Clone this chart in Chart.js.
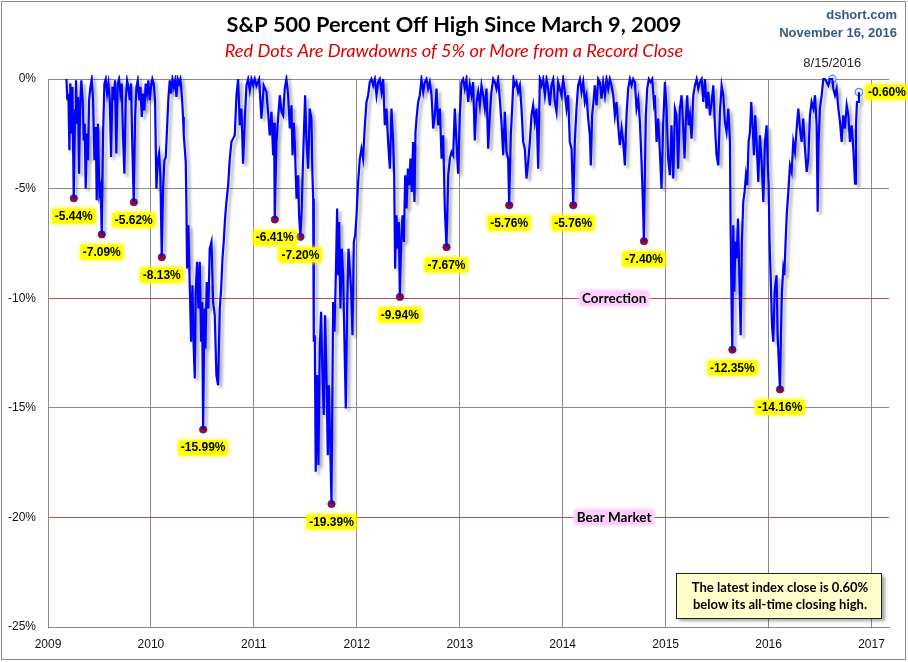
<!DOCTYPE html>
<html>
<head>
<meta charset="utf-8">
<title>S&amp;P 500 Percent Off High Since March 9, 2009</title>
<script src="https://cdn.jsdelivr.net/npm/chart.js@4.4.0/dist/chart.umd.min.js"></script>
<style>
  html, body { margin: 0; padding: 0; background: #fff; }
  canvas { display: block; }
</style>
</head>
<body>
<canvas id="chart" width="908" height="662"></canvas>
<script>
// dates as decimal years, values as percent below the running record close
const dates = [
  2009.179,2009.188,2009.198,2009.208,2009.217,2009.227,2009.237,2009.250,2009.263,2009.272,
  2009.282,2009.292,2009.302,2009.311,2009.324,2009.337,2009.347,2009.357,2009.366,2009.379,
  2009.389,2009.399,2009.412,2009.425,2009.438,2009.451,2009.464,2009.473,2009.486,2009.499,
  2009.512,2009.522,2009.535,2009.548,2009.561,2009.574,2009.587,2009.600,2009.613,2009.626,
  2009.638,2009.651,2009.664,2009.677,2009.690,2009.703,2009.716,2009.729,2009.742,2009.755,
  2009.768,2009.781,2009.794,2009.807,2009.820,2009.833,2009.846,2009.859,2009.872,2009.885,
  2009.898,2009.911,2009.924,2009.936,2009.949,2009.962,2009.975,2009.988,2010.001,2010.014,
  2010.027,2010.040,2010.053,2010.066,2010.079,2010.092,2010.105,2010.118,2010.131,2010.144,
  2010.157,2010.170,2010.183,2010.196,2010.209,2010.222,2010.235,2010.248,2010.260,2010.273,
  2010.286,2010.299,2010.312,2010.319,2010.338,2010.345,2010.351,2010.364,2010.377,2010.390,
  2010.403,2010.416,2010.426,2010.435,2010.448,2010.461,2010.474,2010.487,2010.497,2010.507,
  2010.520,2010.529,2010.542,2010.558,2010.571,2010.588,2010.604,2010.620,2010.636,2010.652,
  2010.669,2010.682,2010.695,2010.707,2010.720,2010.733,2010.750,2010.766,2010.782,2010.798,
  2010.814,2010.831,2010.847,2010.863,2010.879,2010.895,2010.912,2010.928,2010.944,2010.960,
  2010.976,2010.993,2011.009,2011.025,2011.051,2011.073,2011.096,2011.122,2011.138,2011.154,
  2011.171,2011.187,2011.196,2011.203,2011.219,2011.235,2011.252,2011.268,2011.284,2011.300,
  2011.316,2011.333,2011.349,2011.365,2011.375,2011.388,2011.397,2011.414,2011.430,2011.439,
  2011.452,2011.465,2011.478,2011.498,2011.511,2011.527,2011.543,2011.559,2011.569,2011.576,
  2011.582,2011.592,2011.601,2011.614,2011.627,2011.640,2011.653,2011.666,2011.679,2011.692,
  2011.705,2011.718,2011.728,2011.741,2011.754,2011.770,2011.783,2011.796,2011.809,2011.818,
  2011.828,2011.841,2011.854,2011.867,2011.880,2011.893,2011.906,2011.919,2011.932,2011.945,
  2011.958,2011.971,2011.984,2011.997,2012.013,2012.029,2012.045,2012.061,2012.078,2012.094,
  2012.110,2012.126,2012.142,2012.159,2012.175,2012.191,2012.207,2012.223,2012.240,2012.256,
  2012.272,2012.288,2012.304,2012.321,2012.337,2012.353,2012.363,2012.372,2012.385,2012.398,
  2012.408,2012.418,2012.431,2012.444,2012.457,2012.470,2012.483,2012.496,2012.508,2012.521,
  2012.534,2012.547,2012.560,2012.570,2012.580,2012.596,2012.612,2012.628,2012.645,2012.661,
  2012.677,2012.693,2012.709,2012.726,2012.742,2012.758,2012.774,2012.790,2012.807,2012.823,
  2012.839,2012.855,2012.871,2012.888,2012.904,2012.920,2012.936,2012.952,2012.968,2012.984,
  2013.001,2013.017,2013.033,2013.049,2013.065,2013.082,2013.098,2013.114,2013.130,2013.146,
  2013.163,2013.179,2013.195,2013.211,2013.227,2013.244,2013.260,2013.276,2013.292,2013.308,
  2013.325,2013.341,2013.357,2013.373,2013.389,2013.405,2013.422,2013.438,2013.454,2013.470,
  2013.480,2013.496,2013.509,2013.522,2013.535,2013.551,2013.567,2013.584,2013.600,2013.616,
  2013.632,2013.648,2013.665,2013.681,2013.697,2013.713,2013.729,2013.746,2013.762,2013.778,
  2013.794,2013.810,2013.827,2013.843,2013.859,2013.875,2013.891,2013.908,2013.924,2013.940,
  2013.956,2013.972,2013.988,2014.005,2014.021,2014.037,2014.053,2014.069,2014.086,2014.102,
  2014.118,2014.134,2014.150,2014.167,2014.183,2014.199,2014.215,2014.231,2014.248,2014.264,
  2014.273,2014.286,2014.299,2014.312,2014.329,2014.345,2014.361,2014.377,2014.393,2014.410,
  2014.426,2014.442,2014.458,2014.474,2014.491,2014.507,2014.523,2014.539,2014.555,2014.572,
  2014.588,2014.604,2014.620,2014.636,2014.653,2014.669,2014.685,2014.701,2014.717,2014.734,
  2014.750,2014.766,2014.779,2014.789,2014.798,2014.808,2014.821,2014.837,2014.853,2014.870,
  2014.886,2014.895,2014.912,2014.928,2014.944,2014.960,2014.976,2014.993,2015.009,2015.025,
  2015.041,2015.057,2015.074,2015.090,2015.106,2015.122,2015.138,2015.155,2015.171,2015.184,
  2015.197,2015.210,2015.223,2015.236,2015.252,2015.269,2015.285,2015.301,2015.317,2015.333,
  2015.350,2015.366,2015.382,2015.398,2015.414,2015.431,2015.447,2015.463,2015.479,2015.495,
  2015.511,2015.528,2015.544,2015.560,2015.576,2015.592,2015.609,2015.625,2015.631,2015.641,
  2015.648,2015.657,2015.667,2015.677,2015.690,2015.703,2015.716,2015.729,2015.741,2015.754,
  2015.767,2015.780,2015.793,2015.806,2015.819,2015.832,2015.845,2015.858,2015.871,2015.884,
  2015.900,2015.916,2015.933,2015.949,2015.965,2015.981,2015.991,2016.001,2016.010,2016.020,
  2016.033,2016.046,2016.059,2016.069,2016.078,2016.088,2016.098,2016.111,2016.120,2016.130,
  2016.143,2016.153,2016.163,2016.176,2016.192,2016.208,2016.224,2016.240,2016.256,2016.273,
  2016.289,2016.305,2016.321,2016.337,2016.354,2016.370,2016.386,2016.402,2016.418,2016.435,
  2016.451,2016.467,2016.477,2016.486,2016.499,2016.516,2016.532,2016.548,2016.564,2016.580,
  2016.597,2016.619,2016.629,2016.645,2016.661,2016.678,2016.694,2016.710,2016.726,2016.742,
  2016.759,2016.775,2016.791,2016.807,2016.823,2016.840,2016.849,2016.859,2016.869,2016.878
];

const pctOff = [
  0,-0.97,-0.67,-3.25,-0.21,-2.49,-0.36,-5.44,-1.43,-0.06,
  -2.04,-0.82,-4.32,-1.43,-0.06,-0.97,-2.80,-2.04,-5.00,-2.49,
  -3.71,-0.97,-0.36,0,-0.97,-3.71,-2.19,-5.53,-2.04,-5.23,
  -4.92,-7.09,-2.49,-0.21,0,-0.67,-0.21,-0.97,-3.56,-0.36,
  -0.97,-0.06,-3.40,-0.21,0,-0.67,-0.21,-2.64,-4.32,-0.97,
  -0.06,-0.36,-0.97,-0.21,-3.25,-5.62,-1.73,-0.36,-0.06,-0.97,
  -0.36,-1.73,-0.67,-1.43,-0.21,-0.67,-0.06,-0.97,-0.36,0,
  -0.21,-0.97,-5.00,-3.71,-3.40,-4.47,-8.13,-4.92,-3.71,-3.56,
  -2.19,-0.82,-0.06,-0.67,0,-0.36,-0.06,-0.82,0,-0.21,
  0,-0.67,-1.73,-2.57,-3.78,-5.91,-8.65,-6.67,-9.41,-11.99,
  -9.41,-12.30,-13.66,-9.71,-8.34,-10.47,-8.34,-11.99,-10.17,-15.99,
  -10.47,-12.30,-9.26,-10.47,-7.74,-7.43,-10.17,-10.78,-13.51,-13.97,
  -10.47,-9.56,-8.19,-7.43,-6.37,-5.61,-4.85,-3.63,-2.87,-2.72,
  -2.57,-0.74,0,-2.11,-1.35,-3.86,-1.81,-0.29,0,-0.52,
  0,-0.29,0,-0.30,0,-1.81,-0.30,-0.59,-1.50,-2.57,
  -1.50,-3.48,-2.00,-6.41,-2.87,-1.81,-0.74,-1.50,-1.66,-0.44,
  0,-0.74,-2.26,-1.20,-3.48,-2.00,-2.87,-5.46,-4.39,-6.22,
  -7.20,-5.91,-3.63,-0.74,-2.87,-4.09,-1.35,-1.81,-4.39,-5.46,
  -11.99,-11.69,-17.92,-13.51,-17.61,-12.30,-10.62,-13.51,-15.33,-10.78,
  -13.51,-17.16,-13.97,-16.55,-19.39,-10.17,-11.53,-8.95,-5.91,-8.95,
  -6.52,-10.47,-7.74,-8.95,-11.99,-15.03,-10.47,-7.74,-8.65,-9.71,
  -11.69,-7.43,-7.13,-6.22,-4.70,-3.63,-3.18,-3.63,-2.11,-1.05,
  -0.74,-0.14,0,-0.29,0,-0.74,-0.14,0,-0.59,0,
  -2.11,-1.35,-2.87,-4.09,-1.35,-2.87,-4.39,-8.65,-6.22,-7.74,
  -6.52,-9.94,-7.43,-6.22,-7.43,-4.39,-5.91,-4.09,-4.85,-3.63,
  -5.15,-2.87,-5.61,-2.42,-1.81,-1.05,-0.74,0,-0.59,-0.14,
  0,-0.44,-0.14,-0.74,-2.26,-1.66,-0.44,-2.11,-1.35,-3.63,
  -2.57,-5.91,-7.67,-4.39,-3.63,-3.33,-3.48,-1.35,-2.87,-4.32,
  -1.66,-0.14,0,-0.44,0,-1.05,-0.29,-0.74,-0.14,-2.80,
  -1.05,-0.59,-1.20,-0.29,-0.74,-1.35,-0.44,-3.18,-1.66,-0.59,
  0,-0.14,-0.44,0,-0.90,-1.96,-3.48,-1.50,-3.33,-3.63,
  -5.76,-2.57,-1.35,0,-0.29,-0.14,-0.59,-0.29,-1.35,-2.87,
  -3.18,-4.54,-3.78,-2.87,-1.66,-1.20,-1.96,-1.35,-4.09,0,
  -0.29,0,-0.74,0,-0.44,-1.20,-0.29,0,-1.05,-1.50,
  -0.14,-0.44,-0.74,0,-0.59,-1.35,-0.74,-2.87,-3.18,-5.76,
  -2.87,-1.35,-0.29,0,-0.59,-0.14,-1.05,-0.74,-1.81,-2.57,
  -3.94,-1.66,-1.05,-0.29,-1.20,0,-0.14,-0.90,-0.14,-0.74,
  0,-0.44,0,-0.29,-0.74,-1.66,-1.05,-2.11,-3.02,-2.26,
  -2.87,-3.94,-1.66,-0.44,0,-0.29,0,-0.14,-1.35,-0.90,
  -1.96,-3.78,-5.61,-7.40,-4.39,-1.66,-0.44,0,-0.14,0,
  -1.05,-0.74,-2.87,-1.81,-3.33,-5.00,-2.11,-0.14,-1.35,-3.63,
  -4.39,-2.11,-4.54,-1.35,-1.66,-4.09,-1.35,-0.74,-2.26,-3.63,
  -1.81,-0.74,-2.11,-1.66,-2.72,-0.74,-0.29,0,-0.44,-0.14,
  0,-1.05,0,-1.35,-0.59,-1.66,-1.05,-0.29,-2.11,-3.48,
  -3.94,-1.50,-0.29,-0.74,-1.96,-2.42,-1.35,-2.87,-6.67,-10.47,
  -12.35,-6.67,-9.71,-7.43,-8.19,-6.37,-8.95,-11.69,-7.43,-5.61,
  -5.15,-4.39,-4.85,-2.87,-2.42,-1.05,-2.11,-3.48,-1.66,-2.87,
  -4.70,-2.57,-3.78,-5.61,-2.87,-2.11,-3.78,-4.85,-7.43,-8.95,
  -11.23,-11.99,-9.71,-9.26,-8.95,-11.69,-12.75,-14.16,-11.69,-9.71,
  -8.65,-8.95,-7.74,-6.22,-5.15,-3.94,-4.24,-2.87,-3.33,-2.26,
  -1.35,-2.26,-2.87,-1.81,-3.18,-4.24,-3.63,-1.66,-1.05,-1.35,
  -0.74,-2.11,-6.06,-2.87,-1.35,-0.74,0,0,-0.14,-0.29,
  0,0,-0.44,-0.74,-0.44,-1.35,-1.96,-2.87,-1.66,-2.26,
  -1.20,-1.66,-2.87,-2.11,-3.18,-4.77,-2.11,-1.05,-1.05,-0.60
];

// drawdowns of 5% or more (red dots)
const drawdownDates = [2009.250, 2009.522, 2009.833, 2010.105, 2010.507, 2011.203, 2011.452, 2011.754,
                       2012.418, 2012.871, 2013.480, 2014.102, 2014.789, 2015.648, 2016.111];
const drawdownPcts = [-5.44, -7.09, -5.62, -8.13, -15.99, -6.41, -7.20, -19.39,
                      -9.94, -7.67, -5.76, -5.76, -7.40, -12.35, -14.16];

// last record close and latest close
const recordDate = 2016.619, recordPct = 0, recordLabel = '8/15/2016';
const latestDate = 2016.878, latestPct = -0.60;

const yearTicks = [2009, 2010, 2011, 2012, 2013, 2014, 2015, 2016, 2017];
const pctTicks = [0, -5, -10, -15, -20, -25];

const GRID = '#8c8c8c';
const RED_LINE = '#c0504d';

function fitFont(ctx, text, style, family, width) {
  ctx.font = style + ' 20px ' + family;
  const size = 20 * width / ctx.measureText(text).width;
  return style + ' ' + size.toFixed(2) + 'px ' + family;
}

function tag(ctx, text, x, y, bg, font, align) {
  ctx.font = font;
  const w = ctx.measureText(text).width;
  const left = align === 'left' ? x : x - w / 2;
  ctx.save();
  ctx.shadowColor = bg;
  ctx.shadowBlur = 4;
  ctx.fillStyle = bg;
  ctx.fillRect(left - 2, y - 7, w + 4, 14);
  ctx.fillRect(left - 2, y - 7, w + 4, 14);
  ctx.restore();
  ctx.fillStyle = '#000';
  ctx.textAlign = 'left';
  ctx.textBaseline = 'middle';
  ctx.fillText(text, left, y + 0.5);
}

const decorations = {
  id: 'decorations',
  beforeDraw(chart) {
    const ctx = chart.ctx;
    ctx.save();
    ctx.fillStyle = '#fff';
    ctx.fillRect(0, 0, chart.width, chart.height);
    ctx.restore();
  },
  beforeDatasetDraw(chart, args) {
    if (args.index !== 0) return;
    const ctx = chart.ctx;
    ctx.save();
    ctx.shadowColor = 'rgba(0,0,0,0.33)';
    ctx.shadowBlur = 3;
    ctx.shadowOffsetX = 3;
    ctx.shadowOffsetY = 3;
  },
  afterDatasetDraw(chart, args) {
    if (args.index !== 0) return;
    chart.ctx.restore();
  },
  afterDraw(chart) {
    const ctx = chart.ctx;
    const xs = chart.scales.x, ys = chart.scales.y;
    ctx.save();

    // outer frame
    ctx.strokeStyle = '#8c8c8c';
    ctx.lineWidth = 1;
    ctx.strokeRect(1.5, 1.5, 904, 658);

    // title + subtitle
    ctx.textAlign = 'center';
    ctx.textBaseline = 'middle';
    ctx.fillStyle = '#000';
    const title = 'S&P 500 Percent Off High Since March 9, 2009';
    ctx.font = fitFont(ctx, title, 'bold', 'Lato', 455);
    ctx.fillText(title, 454, 25);
    const sub = 'Red Dots Are Drawdowns of 5% or More from a Record Close';
    ctx.font = fitFont(ctx, sub, 'italic', 'Lato', 459);
    ctx.fillStyle = '#dd0000';
    ctx.fillText(sub, 454, 51);

    // source + date
    ctx.textAlign = 'right';
    ctx.fillStyle = '#36598a';
    ctx.font = 'bold 13px "Liberation Sans"';
    ctx.fillText('dshort.com', 897, 15);
    ctx.fillText('November 16, 2016', 897, 33);

    // drawdown labels
    const tagFont = 'bold 12px "Liberation Sans"';
    drawdownDates.forEach((d, i) => {
      const px = xs.getPixelForValue(d);
      const py = ys.getPixelForValue(drawdownPcts[i]);
      tag(ctx, drawdownPcts[i].toFixed(2) + '%', px, py + 18, '#ffff00', tagFont);
    });

    // record and latest labels
    ctx.font = '13px "Liberation Sans"';
    ctx.fillStyle = '#222';
    ctx.textAlign = 'center';
    ctx.textBaseline = 'middle';
    ctx.fillText(recordLabel, xs.getPixelForValue(recordDate), ys.getPixelForValue(recordPct) - 16);
    tag(ctx, latestPct.toFixed(2) + '%', xs.getPixelForValue(latestDate) + 9,
        ys.getPixelForValue(latestPct), '#ffff00', tagFont, 'left');

    // zone labels
    const zoneFont = 'bold 13.5px Lato';
    tag(ctx, 'Correction', xs.getPixelForValue(2014.5), ys.getPixelForValue(-10), '#ffccff', zoneFont);
    tag(ctx, 'Bear Market', xs.getPixelForValue(2014.5), ys.getPixelForValue(-20), '#ffccff', zoneFont);

    // note box
    ctx.save();
    ctx.shadowColor = 'rgba(0,0,0,0.35)';
    ctx.shadowBlur = 3;
    ctx.shadowOffsetX = 3;
    ctx.shadowOffsetY = 3;
    ctx.fillStyle = '#ffffcc';
    ctx.fillRect(676, 573, 206, 45);
    ctx.restore();
    ctx.strokeStyle = '#222';
    ctx.strokeRect(676.5, 573.5, 205, 45);
    ctx.fillStyle = '#000';
    ctx.font = 'bold 13px Lato';
    ctx.textAlign = 'center';
    ctx.fillText('The latest index close is 0.60%', 780, 588);
    ctx.fillText('below its all-time closing high.', 780, 605);

    ctx.restore();
  }
};

const ctx = document.getElementById('chart').getContext('2d');
const chart = new Chart(ctx, {
  type: 'line',
  data: {
    datasets: [
      {
        data: dates.map((d, i) => ({ x: d, y: pctOff[i] })),
        borderColor: '#0000ff',
        borderWidth: 2.2,
        pointRadius: 0,
        tension: 0,
        clip: 4
      },
      {
        data: drawdownDates.map((d, i) => ({ x: d, y: drawdownPcts[i] })),
        showLine: false,
        pointRadius: 3.6,
        pointBackgroundColor: '#c00000',
        pointBorderColor: '#2a2ad0',
        pointBorderWidth: 1,
        clip: 8
      },
      {
        data: [{ x: recordDate, y: recordPct }, { x: latestDate, y: latestPct }],
        showLine: false,
        pointRadius: 3.8,
        pointBackgroundColor: '#e4ecff',
        pointBorderColor: '#5b83ff',
        pointBorderWidth: 1.2,
        clip: 8
      }
    ]
  },
  options: {
    responsive: false,
    animation: false,
    events: [],
    layout: { padding: { left: 0, top: 79, right: 19, bottom: 0 } },
    plugins: {
      legend: { display: false },
      tooltip: { enabled: false },
      title: { display: false }
    },
    scales: {
      x: {
        type: 'linear',
        min: 2009,
        max: 2017.17,
        afterBuildTicks: (scale) => { scale.ticks = yearTicks.map(v => ({ value: v })); },
        afterFit: (scale) => { scale.height = 35; },
        grid: { color: GRID, lineWidth: 1, drawTicks: false },
        border: { color: GRID, width: 1 },
        ticks: {
          callback: (v) => String(v),
          color: '#111',
          font: { family: '"Liberation Sans"', size: 12 },
          padding: 10,
          maxRotation: 0,
          autoSkip: false
        }
      },
      y: {
        min: -25,
        max: 0,
        afterBuildTicks: (scale) => { scale.ticks = pctTicks.map(v => ({ value: v })); },
        afterFit: (scale) => { scale.width = 48; },
        grid: {
          color: (c) => (c.tick && (c.tick.value === -10 || c.tick.value === -20)) ? RED_LINE : GRID,
          lineWidth: 1,
          drawTicks: false
        },
        border: { color: GRID, width: 1 },
        ticks: {
          callback: (v) => v + '%',
          color: '#111',
          font: { family: '"Liberation Sans"', size: 12 },
          padding: 12
        }
      }
    }
  },
  plugins: [decorations]
});
</script>
</body>
</html>
